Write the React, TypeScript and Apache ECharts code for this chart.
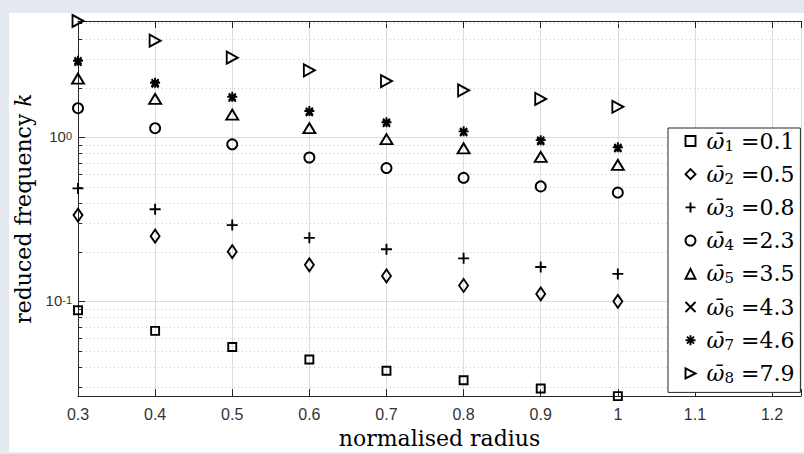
import React, { useEffect, useRef } from 'react';
import * as echarts from 'echarts';

// ---------- data ----------
const radius = [0.3, 0.4, 0.5, 0.6, 0.7, 0.8, 0.9, 1.0];
const omegaIndex = ['1', '2', '3', '4', '5', '6', '7', '8'];
const omegaValues = ['0.1', '0.5', '0.8', '2.3', '3.5', '4.3', '4.6', '7.9'];

const k1 = [0.0883, 0.066, 0.0526, 0.0442, 0.0377, 0.033, 0.0294, 0.0264];
const k2 = [0.336, 0.25, 0.201, 0.167, 0.143, 0.125, 0.111, 0.1];
const k3 = [0.489, 0.365, 0.292, 0.244, 0.208, 0.183, 0.162, 0.147];
const k4 = [1.51, 1.14, 0.908, 0.755, 0.651, 0.567, 0.503, 0.461];
const k5 = [2.29, 1.72, 1.38, 1.14, 0.977, 0.859, 0.762, 0.681];
const k6 = [2.88, 2.12, 1.74, 1.42, 1.22, 1.07, 0.945, 0.855];
const k7 = [2.94, 2.16, 1.77, 1.45, 1.24, 1.09, 0.963, 0.871];
const k8 = [5.14, 3.9, 3.07, 2.57, 2.21, 1.94, 1.72, 1.54];

const seriesValues = [k1, k2, k3, k4, k5, k6, k7, k8];

const xMin = 0.3;
const xMax = 1.2375;
const xInterval = 0.1;
const yMinorTicks = [0.03, 0.04, 0.05, 0.06, 0.07, 0.08, 0.09, 0.2, 0.3, 0.4, 0.5, 0.6, 0.7, 0.8, 0.9, 2, 3, 4, 5];

// ---------- styling ----------
const symbols: any[] = [
  'rect',
  'diamond',
  'path://M5 0L5 10M0 5L10 5',
  'circle',
  'triangle',
  'path://M0 0L10 10M10 0L0 10',
  'path://M5 0L5 10M0 5L10 5M1.5 1.5L8.5 8.5M8.5 1.5L1.5 8.5',
  'path://M0 0L10 5L0 10Z',
];
const symbolSizes: any[] = [8, [9, 13], 11, 10, [12, 10], 7, 10, [11, 12]];

const seriesNames = omegaIndex.map((s, i) => `ω${s} =${omegaValues[i]}`);

const AXIS = '#262626';
const SERIF = 'DejaVu Serif';
const SANS = 'Liberation Sans';

export default function App() {
  const ref = useRef<HTMLDivElement>(null);

  useEffect(() => {
    if (!ref.current) return;
    const chart = echarts.init(ref.current, undefined, { renderer: 'svg' });

    const all = seriesValues.flat();
    const yMin = Math.min(...all);
    const yMax = Math.max(...all);

    const scatterSeries = seriesValues.map((vals, i) => ({
      type: 'scatter',
      name: seriesNames[i],
      data: radius.map((r, j) => [r, vals[j]]),
      symbol: symbols[i],
      symbolSize: symbolSizes[i],
      clip: false,
      z: 3,
      itemStyle: { color: 'none', borderColor: '#000', borderWidth: 1.9, opacity: 1 },
      emphasis: { disabled: true },
    }));

    const option: any = {
      animation: false,
      backgroundColor: '#e5eaf0',
      graphic: [
        {
          type: 'rect',
          z: -10,
          silent: true,
          shape: { x: 9, y: 13, width: 795, height: 439 },
          style: { fill: '#ffffff' },
        },
      ],
      grid: { left: 78, top: 21, right: 0, bottom: 52, containLabel: false },
      legend: {
        orient: 'vertical',
        left: 668,
        top: 128,
        data: seriesNames,
        itemWidth: 10,
        itemHeight: 10,
        itemGap: 10.2,
        padding: [2, 6, 7, 15],
        borderColor: AXIS,
        borderWidth: 1,
        backgroundColor: '#ffffff',
        selectedMode: false,
        itemStyle: { color: 'none', borderColor: '#000', borderWidth: 1.9, opacity: 1 },
        formatter: (name: string) => {
          const i = seriesNames.indexOf(name);
          return `{w|ω\u0304}{s|${omegaIndex[i]}}{e| =${omegaValues[i]}}`;
        },
        textStyle: {
          color: '#000',
          fontFamily: SERIF,
          fontSize: 22,
          rich: {
            w: { fontFamily: SERIF, fontStyle: 'italic', fontSize: 22, lineHeight: 24, color: '#000', padding: [0, 0, 0, 6] },
            s: { fontFamily: SERIF, fontSize: 15, lineHeight: 12, verticalAlign: 'bottom', color: '#000' },
            e: { fontFamily: SERIF, fontSize: 22, lineHeight: 24, color: '#000' },
          },
        },
      },
      xAxis: [
        {
          type: 'value',
          position: 'bottom',
          min: xMin,
          max: xMax,
          interval: xInterval,
          name: 'normalised radius',
          nameLocation: 'middle',
          nameGap: 27,
          nameTextStyle: { fontFamily: SERIF, fontSize: 22, color: '#000' },
          axisLine: { show: true, onZero: false, lineStyle: { color: AXIS, width: 1 } },
          axisTick: { show: true, inside: true, length: 7, lineStyle: { color: AXIS } },
          axisLabel: {
            margin: 10,
            fontFamily: SANS,
            fontSize: 16,
            color: '#333',
            formatter: (v: number) => {
              if (Math.abs(v * 10 - Math.round(v * 10)) > 1e-6) return '';
              return String(Number(v.toFixed(1)));
            },
          },
          splitLine: { show: true, lineStyle: { color: '#dcdcdc', width: 1 } },
        },
        {
          type: 'value',
          position: 'top',
          min: xMin,
          max: xMax,
          interval: xInterval,
          axisLine: { show: true, onZero: false, lineStyle: { color: AXIS, width: 1 } },
          axisTick: { show: true, inside: true, length: 7, lineStyle: { color: AXIS } },
          axisLabel: { show: false },
          splitLine: { show: false },
        },
      ],
      yAxis: {
        type: 'log',
        logBase: 10,
        min: yMin,
        max: yMax,
        name: 'reduced frequency {i|k}',
        nameLocation: 'middle',
        nameRotate: 90,
        nameGap: 44,
        nameTextStyle: {
          fontFamily: SERIF,
          fontSize: 22,
          color: '#000',
          rich: { i: { fontFamily: SERIF, fontStyle: 'italic', fontSize: 22, color: '#000' } },
        },
        axisLine: { show: true, onZero: false, lineStyle: { color: AXIS, width: 1 } },
        axisTick: { show: true, inside: true, length: 7, lineStyle: { color: AXIS } },
        axisLabel: {
          margin: 6,
          color: '#333',
          fontFamily: SANS,
          formatter: (v: number) => {
            const e = Math.log10(v);
            if (Math.abs(e - Math.round(e)) > 1e-6) return '';
            return `{b|10}{s|${Math.round(e)}}`;
          },
          rich: {
            b: { fontFamily: SANS, fontSize: 15, lineHeight: 14, verticalAlign: 'bottom', color: '#333' },
            s: { fontFamily: SANS, fontSize: 11, lineHeight: 10, verticalAlign: 'top', padding: [0, 0, 8, 0], color: '#333' },
          },
        },
        splitLine: { show: true, lineStyle: { color: '#dcdcdc', width: 1 } },
      },
      series: [
        {
          type: 'custom',
          name: 'minor',
          coordinateSystem: 'cartesian2d',
          silent: true,
          clip: false,
          z: 1,
          data: yMinorTicks.map((v) => [xMin, v]),
          encode: { x: 0, y: 1 },
          renderItem: (params: any, api: any) => {
            const cs = params.coordSys;
            const y = Math.round(api.coord([api.value(0), api.value(1)])[1]) + 0.5;
            return {
              type: 'group',
              children: [
                {
                  type: 'line',
                  shape: { x1: cs.x, y1: y, x2: cs.x + cs.width, y2: y },
                  style: { stroke: '#c8c8c8', lineWidth: 1, lineDash: [1, 3] },
                },
                {
                  type: 'line',
                  shape: { x1: cs.x, y1: y, x2: cs.x + 4, y2: y },
                  style: { stroke: AXIS, lineWidth: 1 },
                },
              ],
            };
          },
        },
        ...scatterSeries,
      ],
    };

    chart.setOption(option);
    return () => chart.dispose();
  }, []);

  return <div ref={ref} style={{ position: 'fixed', left: 0, top: 0, width: 804, height: 454 }} />;
}
